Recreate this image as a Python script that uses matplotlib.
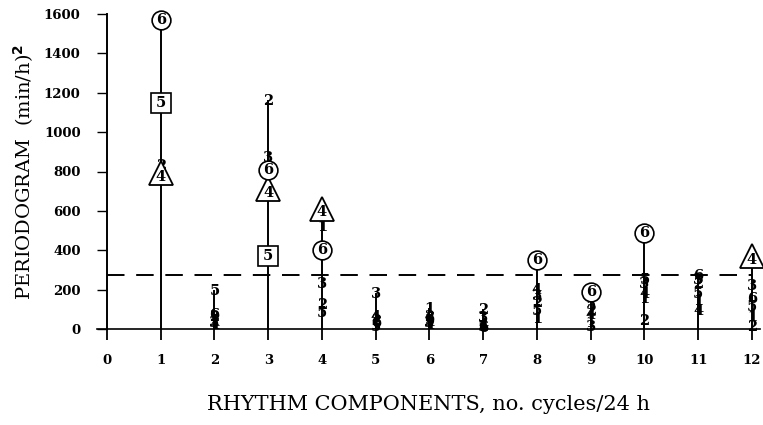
import matplotlib
matplotlib.use("Agg")
import matplotlib.pyplot as plt
import numpy as np

components = [1, 2, 3, 4, 5, 6, 7, 8, 9, 10, 11, 12]
x_ticks = [0, 1, 2, 3, 4, 5, 6, 7, 8, 9, 10, 11, 12]
y_ticks = [0, 200, 400, 600, 800, 1000, 1200, 1400, 1600]
threshold = 274

s1 = [790, 40, 700, 520, 20, 100, 10, 50, 30, 150, 140, 60]
s2 = [830, 60, 1160, 120, 40, 60, 95, 130, 90, 40, 230, 10]
s3 = [750, 30, 870, 230, 180, 30, 55, 170, 10, 230, 250, 220]
s4 = [790, 20, 710, 610, 60, 20, 20, 200, 70, 180, 90, 370]
s5 = [1150, 195, 370, 80, 10, 40, 10, 90, 120, 250, 180, 110]
s6 = [1570, 70, 810, 400, 30, 50, 5, 350, 190, 490, 270, 150]

# which subject values are highlighted (marked) per component
circled6 = [1, 3, 4, 8, 9, 10]
boxed5 = [1, 3]
tri4 = [1, 3, 4, 12]

series = {1: s1, 2: s2, 3: s3, 4: s4, 5: s5, 6: s6}

fig = plt.figure(figsize=(7.63, 4.25), dpi=100)
ax = fig.add_axes([96.8 / 763, 96 / 425, (760 - 96.8) / 763, 315 / 425])
ax.set_xlim(-0.19, 12.15)
ax.set_ylim(0, 1600)

serif = ["DejaVu Serif"]
digfont = dict(family=serif, fontweight="bold", fontsize=10.5, ha="center", va="center")

# vertical lines
for i, c in enumerate(components):
    top = max(series[s][i] for s in series)
    ax.plot([c, c], [0, top], color="black", lw=1.4, zorder=2, clip_on=False)

# dashed threshold
ax.plot([0, 12], [threshold, threshold], color="black", lw=1.4,
        dashes=(9, 6), zorder=1)

# plain digits first
for s in [1, 2, 3, 4, 5, 6]:
    vals = series[s]
    for i, c in enumerate(components):
        marked = (s == 6 and c in circled6) or (s == 5 and c in boxed5) or (s == 4 and c in tri4)
        if marked:
            continue
        ax.text(c, vals[i], str(s), zorder=3, clip_on=False, **digfont)

# marked digits
for i, c in enumerate(components):
    if c in tri4:
        ax.plot(c, s4[i], marker="^", ms=17, mfc="white", mec="black", mew=1.3,
                zorder=4, clip_on=False)
        ax.annotate("4", (c, s4[i]), xytext=(0, -2.5), textcoords="offset points",
                    zorder=5, annotation_clip=False, **digfont)
    if c in boxed5:
        ax.plot(c, s5[i], marker="s", ms=14, mfc="white", mec="black", mew=1.2,
                zorder=4, clip_on=False)
        ax.text(c, s5[i], "5", zorder=5, clip_on=False, **digfont)
    if c in circled6:
        ax.plot(c, s6[i], marker="o", ms=13.5, mfc="white", mec="black", mew=1.2,
                zorder=4, clip_on=False)
        ax.text(c, s6[i], "6", zorder=5, clip_on=False, **digfont)

# spines
for sp in ["top", "right"]:
    ax.spines[sp].set_visible(False)
ax.spines["left"].set_position(("data", 0))
ax.spines["left"].set_linewidth(1.4)
ax.spines["bottom"].set_linewidth(1.2)

ax.set_xticks(x_ticks)
ax.set_yticks(y_ticks)
ax.tick_params(axis="x", direction="out", length=8, width=1.3, pad=10)
ax.tick_params(axis="y", direction="out", length=7, width=1.0, pad=12)
for lab in ax.get_xticklabels() + ax.get_yticklabels():
    lab.set_family(serif)
    lab.set_fontweight("bold")
    lab.set_fontsize(9.5)

ax.set_xlabel("RHYTHM COMPONENTS, no. cycles/24 h", family=serif,
              fontsize=15, labelpad=20)
ax.set_ylabel("PERIODOGRAM  (min/h)$^{\\mathbf{2}}$", family=serif,
              fontsize=14, labelpad=6)

fig.savefig("out.png", dpi=100)
